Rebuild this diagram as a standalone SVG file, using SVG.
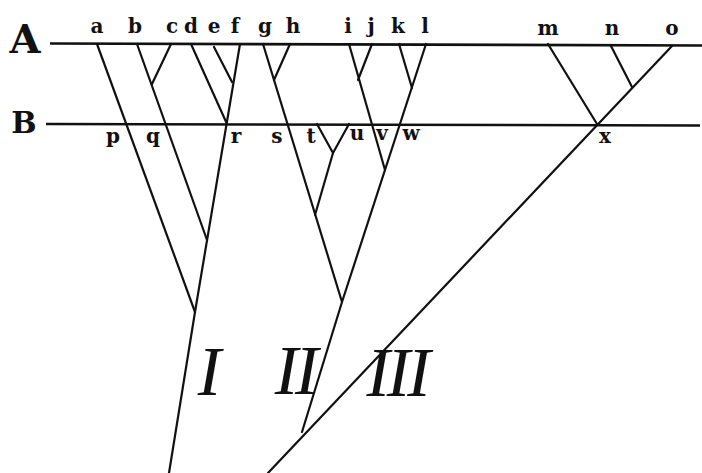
<svg xmlns="http://www.w3.org/2000/svg" width="702" height="473" viewBox="0 0 702 473">
<style>
.ln{stroke:#111;stroke-width:2.2;fill:none;stroke-linecap:round;stroke-linejoin:round}
.hz{stroke:#111;stroke-width:2.6;fill:none}
.lb{font-family:"DejaVu Serif","Liberation Serif",serif;font-weight:bold;font-size:20px;fill:#111;text-anchor:middle}
.big{font-family:"DejaVu Serif","Liberation Serif",serif;font-weight:bold;fill:#111;text-anchor:middle}
.rn{font-family:"Liberation Serif","DejaVu Serif",serif;font-style:italic;font-size:70px;fill:#111;text-anchor:middle;letter-spacing:-3px}
</style>
<rect width="702" height="473" fill="#fff"/>
<g id="levels">
<line class="hz" x1="50" y1="43.5" x2="702" y2="45.5"/>
<line class="hz" x1="46" y1="124" x2="700" y2="125.5"/>
<text class="big" x="25" y="53" font-size="40">A</text>
<text class="big" x="24" y="133" font-size="30">B</text>
</g>
<g id="connectors">
<line class="ln" x1="97" y1="44" x2="195" y2="312"/>
<line class="ln" x1="137" y1="44" x2="207" y2="240"/>
<line class="ln" x1="171" y1="44" x2="152" y2="84"/>
<line class="ln" x1="191" y1="44" x2="227" y2="124"/>
<line class="ln" x1="214" y1="47" x2="232" y2="82"/>
<polyline class="ln" points="240,44 195,312 169,473"/>
<line class="ln" x1="263" y1="44" x2="342" y2="302"/>
<line class="ln" x1="290" y1="44" x2="274" y2="80"/>
<polyline class="ln" points="317,124 333,153 349,124"/>
<line class="ln" x1="333" y1="153" x2="315" y2="215"/>
<line class="ln" x1="349" y1="44" x2="385" y2="170"/>
<line class="ln" x1="372" y1="44" x2="358" y2="80"/>
<line class="ln" x1="399" y1="44" x2="412" y2="88"/>
<polyline class="ln" points="426,44 342,302 302,432"/>
<line class="ln" x1="548" y1="44" x2="597" y2="124"/>
<line class="ln" x1="611" y1="46" x2="632" y2="87"/>
<line class="ln" x1="672" y1="46" x2="268" y2="473"/>
</g>
<g id="n-a"><text class="lb" x="97" y="33">a</text></g>
<g id="n-b"><text class="lb" x="135" y="33">b</text></g>
<g id="n-c"><text class="lb" x="172" y="33">c</text></g>
<g id="n-d"><text class="lb" x="191" y="33">d</text></g>
<g id="n-e"><text class="lb" x="214" y="33">e</text></g>
<g id="n-f"><text class="lb" x="235" y="33">f</text></g>
<g id="n-g"><text class="lb" x="265" y="33">g</text></g>
<g id="n-h"><text class="lb" x="293" y="33">h</text></g>
<g id="n-i"><text class="lb" x="348" y="33">i</text></g>
<g id="n-j"><text class="lb" x="371" y="33">j</text></g>
<g id="n-k"><text class="lb" x="398" y="33">k</text></g>
<g id="n-l"><text class="lb" x="425" y="33">l</text></g>
<g id="n-m"><text class="lb" x="548" y="35">m</text></g>
<g id="n-n"><text class="lb" x="612" y="35">n</text></g>
<g id="n-o"><text class="lb" x="672" y="35">o</text></g>
<g id="n-p"><text class="lb" x="113" y="143">p</text></g>
<g id="n-q"><text class="lb" x="153" y="143">q</text></g>
<g id="n-r"><text class="lb" x="236" y="143">r</text></g>
<g id="n-s"><text class="lb" x="277" y="143">s</text></g>
<g id="n-t"><text class="lb" x="311" y="143">t</text></g>
<g id="n-u"><text class="lb" x="357" y="140">u</text></g>
<g id="n-v"><text class="lb" x="382" y="140">v</text></g>
<g id="n-w"><text class="lb" x="411" y="140">w</text></g>
<g id="n-x"><text class="lb" x="605" y="143">x</text></g>
<g id="n-I"><text class="rn" x="208" y="395">I</text></g>
<g id="n-II"><text class="rn" x="295" y="394">II</text></g>
<g id="n-III"><text class="rn" x="397" y="396">III</text></g>
</svg>
